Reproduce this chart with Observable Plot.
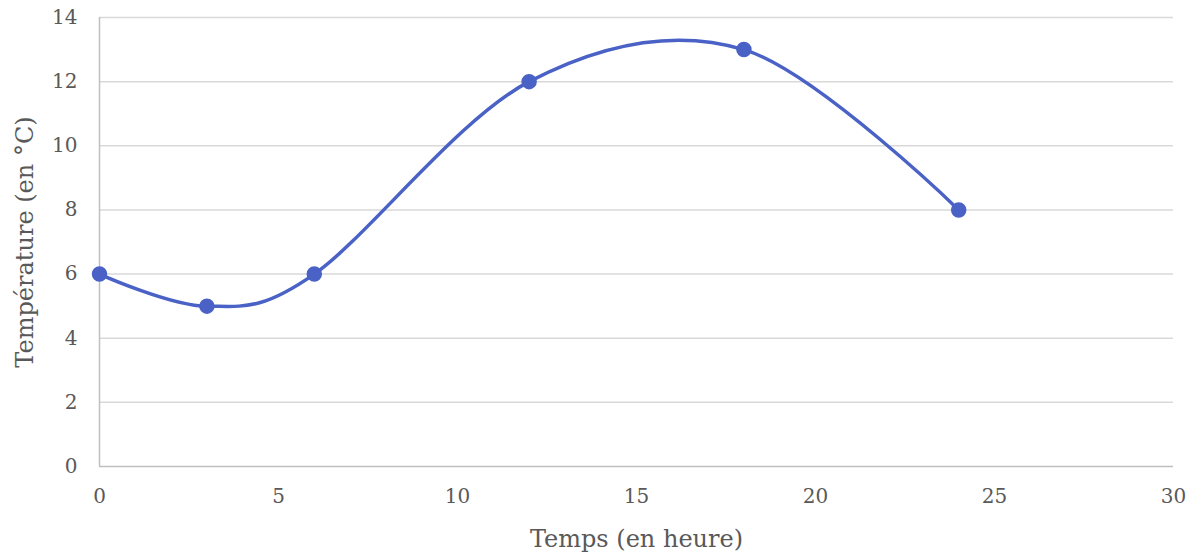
<!DOCTYPE html>
<html><head><meta charset="utf-8">
<script src="https://cdn.jsdelivr.net/npm/d3@7"></script>
<script src="https://cdn.jsdelivr.net/npm/@observablehq/plot@0.6"></script>
<style>body{margin:0;background:#fff}</style>
</head><body><div id="chart"></div>
<script>
const hours = [0, 3, 6, 12, 18, 24];
const temps = [6, 5, 6, 12, 13, 8];
const xTicks = [0, 5, 10, 15, 20, 25, 30];
const yTicks = [0, 2, 4, 6, 8, 10, 12, 14];
const xTitle = "Temps (en heure)";
const yTitle = "Température (en °C)";

const data = hours.map((h, i) => ({h, t: temps[i]}));
const color = "#4A62C6";

const chart = Plot.plot({
  width: 1190, height: 553,
  marginLeft: 99, marginRight: 17, marginTop: 17, marginBottom: 87,
  style: {fontFamily: "'DejaVu Serif', serif", fontSize: "20px", color: "#595959", background: "#fff"},
  x: {domain: [0, 30], ticks: xTicks},
  y: {domain: [0, 14], ticks: yTicks},
  marks: [
    Plot.ruleY(yTicks.filter(d => d > 0), {stroke: "#d9d9d9", strokeWidth: 1.5, strokeOpacity: 1}),
    Plot.ruleY([0], {stroke: "#bfbfbf", strokeWidth: 1.5}),
    Plot.ruleX([0], {stroke: "#bfbfbf", strokeWidth: 1.5}),
    Plot.axisX({ticks: xTicks, tickSize: 0, tickPadding: 22, label: null}),
    Plot.axisY({ticks: yTicks, tickSize: 0, tickPadding: 22, label: null}),
    Plot.axisX({ticks: [], tickSize: 0, label: xTitle, labelAnchor: "center", labelArrow: "none", labelOffset: 80, fontSize: 24}),
    Plot.axisY({ticks: [], tickSize: 0, label: yTitle, labelAnchor: "center", labelArrow: "none", labelOffset: 84, fontSize: 24}),
    Plot.line(data, {x: "h", y: "t", curve: "cardinal", stroke: color, strokeWidth: 3.5}),
    Plot.dot(data, {x: "h", y: "t", r: 7, fill: color, stroke: color})
  ]
});
document.getElementById("chart").appendChild(chart);
</script></body></html>
